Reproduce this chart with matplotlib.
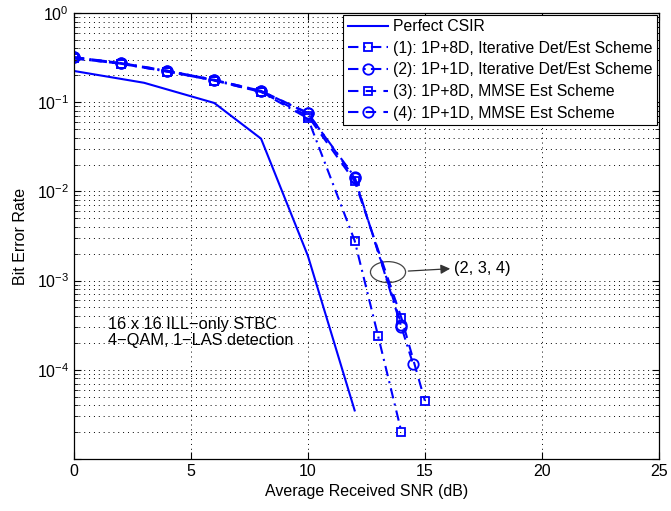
import matplotlib.pyplot as plt
from matplotlib.patches import Ellipse
from matplotlib.ticker import LogLocator, NullFormatter, FixedLocator

plt.rcParams['font.family'] = ['Liberation Sans', 'DejaVu Sans']
plt.rcParams['mathtext.fontset'] = 'custom'
plt.rcParams['mathtext.rm'] = 'Liberation Sans'

# data
snr_perf = [0, 3, 6, 8, 10, 12]
ber_perf = [0.224, 0.165, 0.098, 0.039, 1.9e-3, 3.5e-5]

snr_1 = [0, 2, 4, 6, 8, 10, 12, 13, 14]
ber_1 = [0.31, 0.27, 0.22, 0.175, 0.13, 0.066, 2.8e-3, 2.4e-4, 2.0e-5]

snr_2 = [0, 2, 4, 6, 8, 10, 12, 14, 14.5]
ber_2 = [0.32, 0.275, 0.225, 0.178, 0.134, 0.075, 0.0145, 3.0e-4, 1.15e-4]

snr_3 = [0, 2, 4, 6, 8, 10, 12, 14, 15]
ber_3 = [0.31, 0.27, 0.22, 0.175, 0.13, 0.07, 0.013, 3.8e-4, 4.5e-5]

snr_4 = [0, 2, 4, 6, 8, 10, 12, 14]
ber_4 = [0.32, 0.275, 0.225, 0.178, 0.134, 0.076, 0.014, 3.2e-4]

labels = ['Perfect CSIR',
          '(1): 1P+8D, Iterative Det/Est Scheme',
          '(2): 1P+1D, Iterative Det/Est Scheme',
          '(3): 1P+8D, MMSE Est Scheme',
          '(4): 1P+1D, MMSE Est Scheme']

fig = plt.figure(figsize=(6.71, 5.11), dpi=100)
ax = fig.add_axes([0.110, 0.1018, 0.872, 0.8728])

blue = '#0000ff'
dashdot = (0, (5, 2.5, 1, 2.5))
dashed = (0, (5, 3.5))
ax.semilogy(snr_perf, ber_perf, '-', color=blue, lw=1.5, label=labels[0])
ax.semilogy(snr_1, ber_1, linestyle=dashdot, color=blue, lw=1.5, marker='s', ms=6,
            mfc='none', mew=1.3, label=labels[1])
ax.semilogy(snr_2, ber_2, linestyle=dashdot, color=blue, lw=1.5, marker='o', ms=7.5,
            mfc='none', mew=1.3, label=labels[2])
ax.semilogy(snr_3, ber_3, linestyle=dashed, color=blue, lw=1.5, marker='s', ms=6,
            mfc='none', mew=1.3, label=labels[3])
ax.semilogy(snr_4, ber_4, linestyle=dashed, color=blue, lw=1.5, marker='o', ms=7.5,
            mfc='none', mew=1.3, label=labels[4])

ax.set_xlim(0, 25)
ax.set_ylim(1e-5, 1)
ax.set_xticks([0, 5, 10, 15, 20, 25])
ax.yaxis.set_major_locator(FixedLocator([1e-5, 1e-4, 1e-3, 1e-2, 1e-1, 1]))
ax.set_yticklabels(['', r'$10^{-4}$', r'$10^{-3}$', r'$10^{-2}$', r'$10^{-1}$', r'$10^{0}$'])
ax.yaxis.set_minor_locator(LogLocator(base=10, subs=range(2, 10), numticks=20))
ax.yaxis.set_minor_formatter(NullFormatter())

ax.tick_params(which='both', direction='in', top=True, right=True, labelsize=11.5)
ax.tick_params(which='major', length=5)
ax.tick_params(which='minor', length=3)
ax.grid(True, which='major', linestyle=(0, (1, 4)), color='black', lw=0.7)
ax.grid(True, which='minor', axis='y', linestyle=(0, (1, 4)), color='black', lw=0.7)
for sp in ax.spines.values():
    sp.set_linewidth(0.9)

ax.set_xlabel('Average Received SNR (dB)', fontsize=11.5)
ax.set_ylabel('Bit Error Rate', fontsize=11.5, labelpad=6)

leg = ax.legend(loc='upper right', fontsize=11.3, handlelength=2.6,
                borderaxespad=0.1, fancybox=False, edgecolor='black',
                framealpha=1, labelspacing=0.42, handletextpad=0.3,
                borderpad=0.3)
leg.get_frame().set_linewidth(0.8)

ax.text(1.45, 2.6e-4, '16 x 16 ILL\u2212only STBC\n4\u2212QAM, 1\u2212LAS detection',
        fontsize=11.8, va='center', ha='left', linespacing=1.1)

# ellipse + arrow marking curves (2, 3, 4)
ell = Ellipse((0.537, 0.419), 0.06, 0.047, transform=ax.transAxes,
              fill=False, edgecolor='#444444', lw=0.9)
ax.add_patch(ell)
ax.annotate('(2, 3, 4)', xy=(0.65, 0.427), xytext=(0.65, 0.427),
            xycoords='axes fraction', textcoords='axes fraction',
            fontsize=11.8, va='center', ha='left')
ax.annotate('', xy=(0.648, 0.427), xytext=(0.567, 0.421),
            xycoords='axes fraction', textcoords='axes fraction',
            arrowprops=dict(arrowstyle='-|>', color='#333333', lw=0.9,
                            mutation_scale=14))

fig.savefig('out.png', dpi=100)
